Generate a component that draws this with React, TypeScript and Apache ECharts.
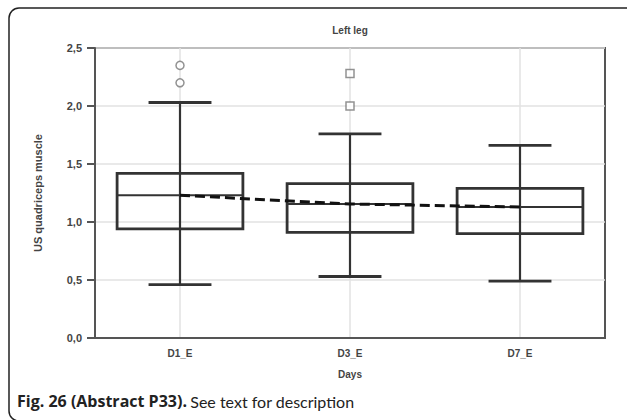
import React, { useEffect, useRef } from "react";
import * as echarts from "echarts";

const categories = ["D1_E", "D3_E", "D7_E"];
// [low whisker, Q1, median, Q3, high whisker]
const boxValues = [
  [0.46, 0.94, 1.23, 1.42, 2.03],
  [0.53, 0.91, 1.155, 1.33, 1.76],
  [0.49, 0.9, 1.13, 1.29, 1.66],
];
const outliersD1 = [2.35, 2.2];
const outliersD3 = [2.28, 2.0];
const trendValues = [1.23, 1.155, 1.13];
const yTicks = { min: 0, max: 2.5, interval: 0.5 };

export default function App() {
  const ref = useRef<HTMLDivElement>(null);
  useEffect(() => {
    if (!ref.current) return;
    const chart = echarts.init(ref.current, null, { renderer: "svg" });
    const dark = "#333";
    const option: any = {
      animation: false,
      backgroundColor: "#fff",
      grid: {
        left: 95,
        right: 22,
        top: 48,
        bottom: 82,
        show: true,
        borderColor: "#555",
        borderWidth: 2,
        backgroundColor: "transparent",
      },
      xAxis: {
        type: "category",
        data: categories,
        boundaryGap: true,
        name: "Days",
        nameLocation: "middle",
        nameGap: 31,
        nameTextStyle: { fontFamily: "Liberation Sans", fontWeight: "bold", fontSize: 10, color: "#444" },
        axisLine: { lineStyle: { color: "#555", width: 2 } },
        axisTick: { alignWithLabel: true, length: 6, lineStyle: { color: "#555", width: 2 } },
        axisLabel: { fontFamily: "Liberation Sans", fontWeight: "bold", fontSize: 10, color: "#444", margin: 10 },
        splitLine: { show: false },
      },
      yAxis: {
        type: "value",
        min: yTicks.min,
        max: yTicks.max,
        interval: yTicks.interval,
        name: "US quadriceps muscle",
        nameLocation: "middle",
        nameGap: 52,
        nameTextStyle: { fontFamily: "Liberation Sans", fontWeight: "bold", fontSize: 11, color: "#444" },
        axisLine: { show: true, lineStyle: { color: "#555", width: 2 } },
        axisTick: { show: true, length: 8, lineStyle: { color: "#555", width: 2 } },
        axisLabel: {
          fontFamily: "Liberation Sans",
          fontWeight: "bold",
          fontSize: 11,
          color: "#444",
          margin: 13,
          formatter: (v: number) => v.toFixed(1).replace(".", ","),
        },
        splitLine: { show: true, lineStyle: { color: "#e2e2e2", width: 1.5 } },
      },
      graphic: [
        {
          type: "rect",
          shape: { x: 9, y: 8, width: 660, height: 413, r: 10 },
          style: { fill: "transparent", stroke: "#222", lineWidth: 1.5 },
          silent: true,
        },
        {
          type: "text",
          x: 350,
          y: 30,
          style: {
            text: "Left leg",
            fontFamily: "Liberation Sans",
            fontWeight: "bold",
            fontSize: 10,
            fill: "#444",
            align: "center",
            verticalAlign: "middle",
          },
        },
        {
          type: "text",
          x: 17,
          y: 401,
          style: {
            text: "{b|Fig. 26 (Abstract P33).} {n|See text for description}",
            rich: {
              b: { fontFamily: "Open Sans", fontWeight: "bold", fontSize: 16, fill: "#222" },
              n: { fontFamily: "Lato", fontSize: 16, fill: "#222" },
            },
            verticalAlign: "middle",
          },
        },
      ],
      series: [
        {
          type: "custom",
          z: 0,
          silent: true,
          data: categories.map((_, i) => [i]),
          renderItem: (params: any, api: any) => {
            const x = api.value(0);
            const top = api.coord([x, yTicks.max]);
            const bottom = api.coord([x, yTicks.min]);
            return {
              type: "line",
              shape: { x1: top[0], y1: top[1], x2: bottom[0], y2: bottom[1] },
              style: { stroke: "#e2e2e2", lineWidth: 1.5 },
            };
          },
        },
        {
          type: "custom",
          z: 3,
          data: boxValues.map((b, i) => [i, ...b]),
          renderItem: (params: any, api: any) => {
            const x = api.value(0);
            const low = api.coord([x, api.value(1)]);
            const q1 = api.coord([x, api.value(2)]);
            const med = api.coord([x, api.value(3)]);
            const q3 = api.coord([x, api.value(4)]);
            const high = api.coord([x, api.value(5)]);
            const band = api.size([1, 0])[0];
            const bw = band * 0.74;
            const cw = band * 0.37;
            const cx = low[0];
            const st = { stroke: dark, lineWidth: 2.8, fill: "none" };
            return {
              type: "group",
              children: [
                { type: "line", shape: { x1: cx, y1: high[1], x2: cx, y2: low[1] }, style: { stroke: dark, lineWidth: 2.2 } },
                { type: "line", shape: { x1: cx - cw / 2, y1: high[1], x2: cx + cw / 2, y2: high[1] }, style: st },
                { type: "line", shape: { x1: cx - cw / 2, y1: low[1], x2: cx + cw / 2, y2: low[1] }, style: st },
                {
                  type: "rect",
                  shape: { x: cx - bw / 2, y: q3[1], width: bw, height: q1[1] - q3[1] },
                  style: { stroke: dark, lineWidth: 2.8, fill: "transparent" },
                },
                { type: "line", shape: { x1: cx - bw / 2, y1: med[1], x2: cx + bw / 2, y2: med[1] }, style: { stroke: dark, lineWidth: 2 } },
              ],
            };
          },
        },
        {
          type: "line",
          z: 4,
          data: trendValues,
          symbol: "none",
          lineStyle: { color: "#111", width: 3, type: [10, 5] },
        },
        {
          type: "scatter",
          z: 4,
          data: outliersD1.map((v) => [0, v]),
          symbol: "circle",
          symbolSize: 8,
          itemStyle: { color: "#fff", borderColor: "#777", borderWidth: 1.5 },
        },
        {
          type: "scatter",
          z: 4,
          data: outliersD3.map((v) => [1, v]),
          symbol: "rect",
          symbolSize: 8,
          itemStyle: { color: "#fff", borderColor: "#777", borderWidth: 1.5 },
        },
      ],
    };
    chart.setOption(option);
    return () => chart.dispose();
  }, []);
  return (
    <div
      ref={ref}
      style={{ position: "absolute", left: 0, top: 0, width: 627, height: 420 }}
    />
  );
}
